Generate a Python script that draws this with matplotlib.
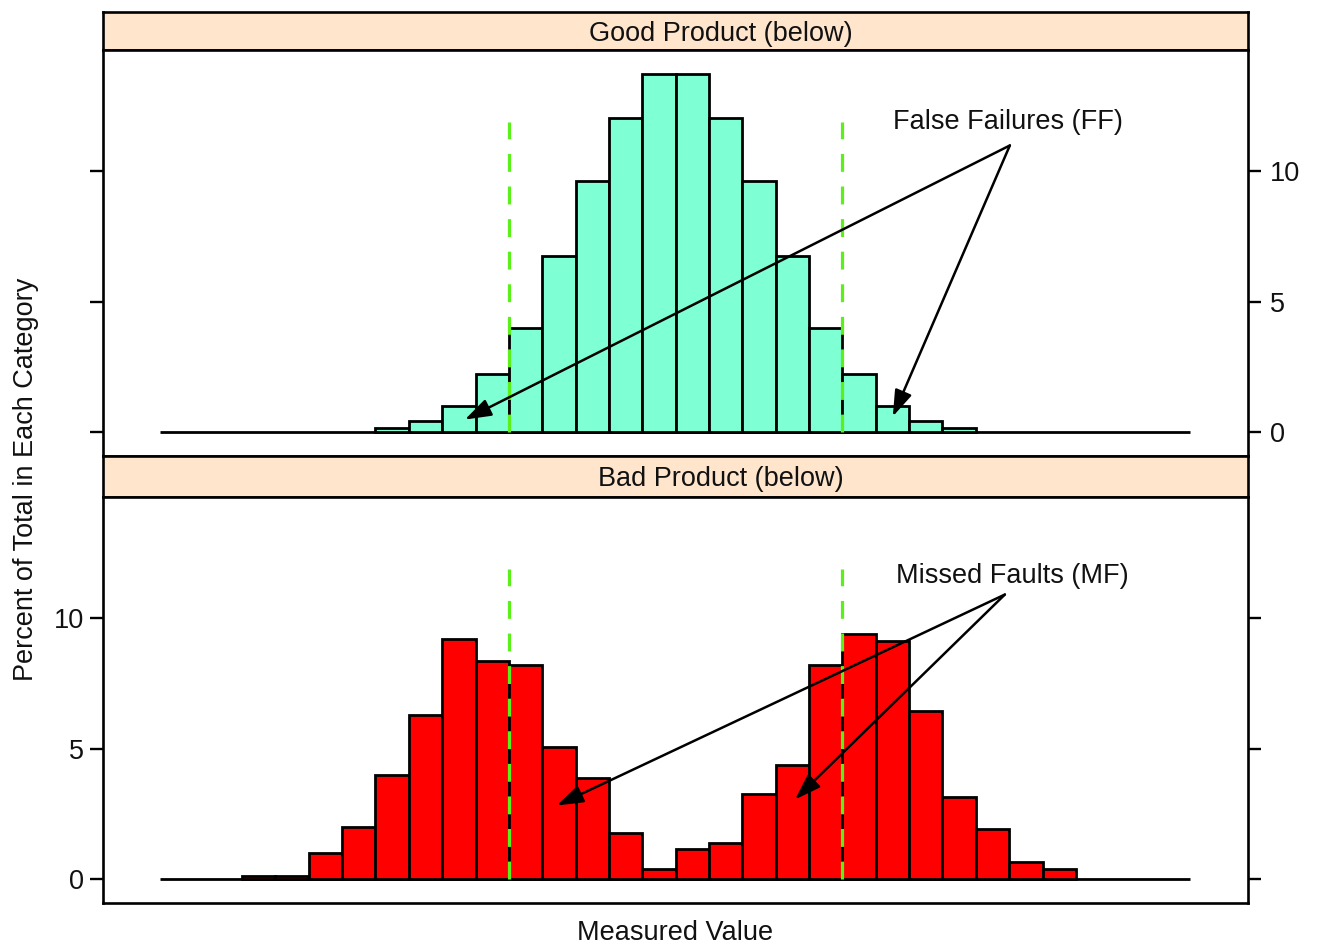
import matplotlib
matplotlib.use("Agg")
import matplotlib.pyplot as plt

plt.rcParams["font.family"] = ["Liberation Sans", "DejaVu Sans"]

# Percent of total per bin (bin width 1 in measured-value units)
good_pct = [0.14, 0.4, 1.0, 2.2, 4.0, 6.75, 9.65, 12.05, 13.75,
            13.75, 12.05, 9.65, 6.75, 4.0, 2.2, 1.0, 0.4, 0.14]
bad_pct = [0.1, 0.1, 1.0, 2.0, 4.0, 6.3, 9.2, 8.35, 8.2, 5.05, 3.85, 1.75,
           0.35, 1.15, 1.35, 3.25, 4.35, 8.2, 9.4, 9.15, 6.45, 3.15, 1.9,
           0.65, 0.35]
good_first_edge = -4
bad_first_edge = -8
spec_limits = [0, 10]
value_range = [-10.45, 20.42]
panel_titles = ["Good Product (below)", "Bad Product (below)"]
y_ticks = [0, 5, 10]

W, H = 1318, 948
fig = plt.figure(figsize=(W / 100, H / 100), dpi=100)

FS = 19.5
TXT = "#111111"
STRIP_BG = "#ffe5cc"
GREEN = "#5cf01a"
XLIM = (-12.17, 22.16)
YLIM = (-0.94, 14.67)
LW = 2.0


def fig_axes(x0, y0, x1, y1):
    return fig.add_axes([x0 / W, 1 - y1 / H, (x1 - x0) / W, (y1 - y0) / H])


def strip(y0, y1, title):
    s = fig_axes(103, y0, 1248, y1)
    s.set_facecolor(STRIP_BG)
    s.set_xticks([])
    s.set_yticks([])
    for sp in s.spines.values():
        sp.set_linewidth(1.9)
    s.text((721 - 103) / (1248 - 103), 0.5, title, transform=s.transAxes,
           ha="center", va="center_baseline", fontsize=FS, color=TXT)
    return s


def panel(y0, y1, pct, first_edge, color, ticks_right):
    ax = fig_axes(103, y0, 1248, y1)
    edges = [first_edge + i for i in range(len(pct))]
    ax.plot(value_range, [0, 0], color="black", lw=LW, zorder=1,
            solid_capstyle="butt")
    ax.bar(edges, pct, width=1, align="edge", color=color,
           edgecolor="black", linewidth=LW, zorder=2)
    for lim in spec_limits:
        ax.plot([lim, lim], [0, 11.9], color=GREEN, lw=2.3,
                dashes=(5.6, 4.6), zorder=4)
    ax.set_xlim(*XLIM)
    ax.set_ylim(*YLIM)
    ax.set_xticks([])
    ax.set_yticks(y_ticks)
    ax.yaxis.set_ticks_position("both")
    ax.tick_params(axis="y", direction="out", length=9.5, width=1.7,
                   labelsize=FS, colors="black", labelcolor=TXT,
                   labelleft=not ticks_right, labelright=ticks_right)
    ax.tick_params(axis="y", which="major", left=True, right=True)
    for t in ax.yaxis.get_major_ticks():
        t.set_pad(6.5 if ticks_right else 4.0)
    for sp in ax.spines.values():
        sp.set_linewidth(1.9)
    return ax


def callout(ax, label, text_xy, start, tips):
    ax.text(*text_xy, label, ha="center", va="center", fontsize=FS,
            color=TXT, zorder=6)
    for tip in tips:
        ax.annotate("", xy=tip, xytext=start,
                    arrowprops=dict(arrowstyle="-|>,head_length=0.8,head_width=0.27",
                                    mutation_scale=20, lw=1.8, color="black",
                                    shrinkA=0, shrinkB=0),
                    zorder=5)


strip(12, 50, panel_titles[0])
ax_good = panel(50, 456, good_pct, good_first_edge, "#7fffd4", True)
strip(456, 497, panel_titles[1])
ax_bad = panel(497, 903, bad_pct, bad_first_edge, "#ff0000", False)

callout(ax_good, "False Failures (FF)", (14.96, 11.92), (15.02, 11.0),
        [(-1.32, 0.46), (11.51, 0.58)])
callout(ax_bad, "Missed Faults (MF)", (15.08, 11.65), (14.87, 10.92),
        [(1.44, 2.81), (8.58, 3.04)])

fig.text(26 / W, 1 - 479 / H, "Percent of Total in Each Category",
         rotation=90, ha="center", va="center", fontsize=FS, color=TXT)
fig.text(675.5 / W, 1 - 933 / H, "Measured Value", ha="center", va="center",
         fontsize=FS, color=TXT)

fig.savefig("out.png", dpi=100)
